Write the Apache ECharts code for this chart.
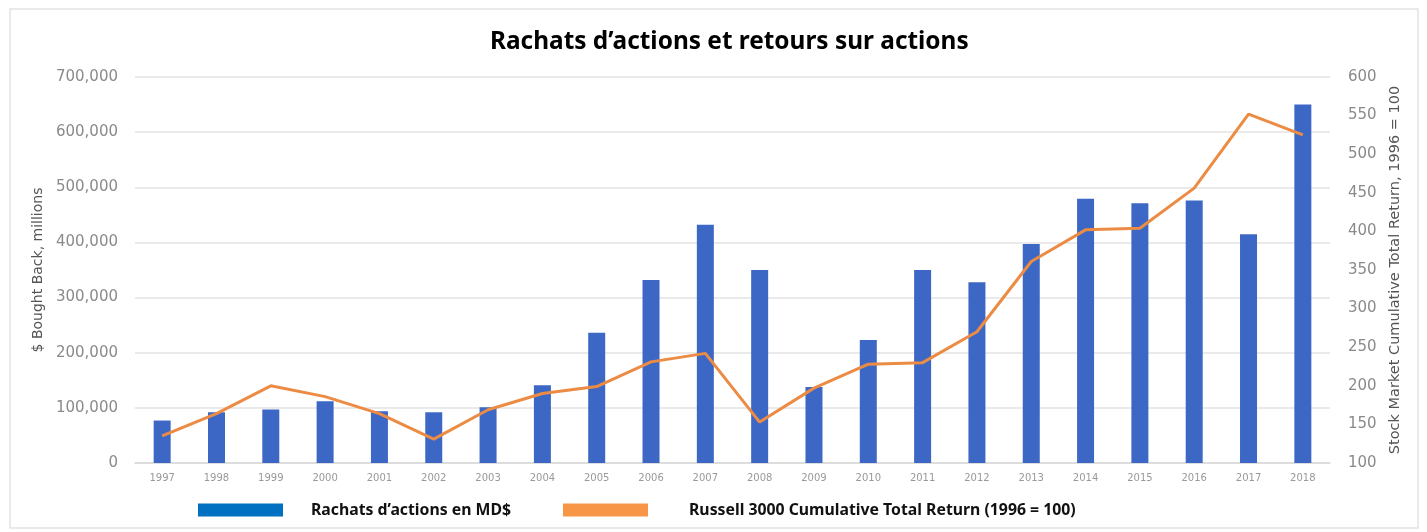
<!DOCTYPE html>
<html>
<head>
<meta charset="utf-8">
<script src="https://cdn.jsdelivr.net/npm/echarts@6/dist/echarts.min.js"></script>
<style>html,body{margin:0;padding:0;background:#fff}#c{width:1427px;height:532px}</style>
</head>
<body>
<div id="c"></div>
<script>
const years = ['1997','1998','1999','2000','2001','2002','2003','2004','2005','2006','2007','2008','2009','2010','2011','2012','2013','2014','2015','2016','2017','2018'];
const buybacks = [77000,92000,97000,112000,94000,92000,101000,141000,236000,332000,432000,350000,138000,223000,350000,328000,397000,479000,471000,476000,415000,650000];
const russell = [135,164,200,186,164,131,169,190,199,231,242,153,197,228,230,270,361,402,404,456,552,525];
const barName = 'Rachats d’actions en MD$';
const lineName = 'Russell 3000 Cumulative Total Return (1996 = 100)';

const chart = echarts.init(document.getElementById('c'));
const legendBase = {fontFamily:'Noto Sans', fontWeight:'bold', fontSize:15.8, color:'#111'};
chart.setOption({
  animation:false,
  backgroundColor:'#fff',
  title:{text:'Rachats d’actions et retours sur actions', left:485, top:25,
    textStyle:{fontFamily:'Noto Sans', fontWeight:'bold', fontSize:24.4, color:'#000'}},
  graphic:[{type:'rect', shape:{x:10,y:9,width:1408,height:519}, style:{fill:'none', stroke:'#e4e4e4', lineWidth:1.5}, silent:true}],
  legend:[
    {left:193, top:497, itemWidth:85, itemHeight:13, icon:'rect',
     textStyle:Object.assign({padding:[0,0,0,23]}, legendBase),
     data:[{name:barName, itemStyle:{color:'#0070c0'}}]},
    {left:558, top:497, itemWidth:85, itemHeight:13, icon:'rect',
     textStyle:Object.assign({padding:[0,0,0,36]}, legendBase),
     data:[{name:lineName, itemStyle:{color:'#f79646'}, lineStyle:{opacity:0}}]}
  ],
  grid:{left:135, right:97, top:77, bottom:69},
  xAxis:{type:'category', data:years,
    axisLine:{lineStyle:{color:'#d9d9d9', width:1.5}}, axisTick:{show:false},
    axisLabel:{fontSize:10, color:'#999', margin:10, fontFamily:'DejaVu Sans'}},
  yAxis:[
    {type:'value', min:0, max:700000, interval:100000,
     name:'$ Bought Back, millions', nameLocation:'middle', nameGap:90, nameRotate:90,
     nameTextStyle:{fontSize:14, color:'#555', fontFamily:'DejaVu Sans'},
     axisLabel:{fontSize:15, color:'#8a8a8a', margin:17, fontFamily:'DejaVu Sans',
       formatter:v=>v.toLocaleString('en-US')},
     splitLine:{lineStyle:{color:'#e3e3e3', width:1.5}}},
    {type:'value', min:100, max:600, interval:50, position:'right',
     name:'Stock Market Cumulative Total Return, 1996 = 100', nameLocation:'middle', nameGap:57, nameRotate:90,
     nameTextStyle:{fontSize:14.5, color:'#555', fontFamily:'DejaVu Sans'},
     axisLabel:{fontSize:15, color:'#8a8a8a', margin:18, fontFamily:'DejaVu Sans'},
     splitLine:{show:false}}
  ],
  series:[
    {name:barName, type:'bar', data:buybacks, barWidth:17, itemStyle:{color:'#3d67c5'}},
    {name:lineName, type:'line', yAxisIndex:1, data:russell, symbol:'none',
     lineStyle:{color:'#ec8c44', width:3}, itemStyle:{color:'#ec8c44'}}
  ]
});
</script>
</body>
</html>
